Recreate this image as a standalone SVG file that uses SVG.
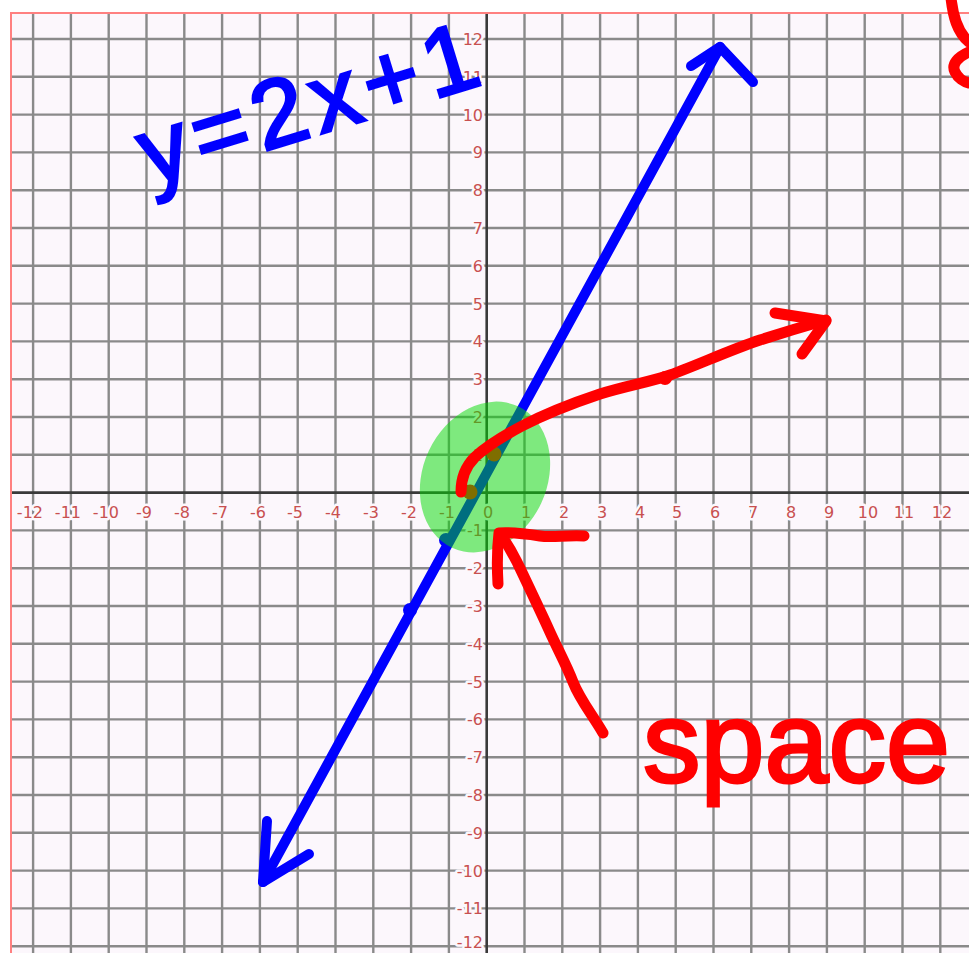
<svg xmlns="http://www.w3.org/2000/svg" width="969" height="953" viewBox="0 0 969 953">
<style>
.grid{fill:none;stroke:#8a8a8a;stroke-width:2.4}
.axis{fill:none;stroke:#3a3a3a;stroke-width:2.6}
.lbl{font-family:"DejaVu Sans",sans-serif;font-size:16px;fill:#c85050;stroke:#fcf7fc;stroke-width:5;paint-order:stroke;stroke-linejoin:round}
.xl{text-anchor:middle}
.yl{text-anchor:end}
.blue{fill:none;stroke:#0000ff;stroke-width:10;stroke-linecap:round;stroke-linejoin:round}
.red{fill:none;stroke:#ff0000;stroke-width:11;stroke-linecap:round;stroke-linejoin:round}
.hand{font-family:"Liberation Sans",sans-serif}
</style>
<rect x="0" y="0" width="969" height="953" fill="#ffffff"/>
<g id="paper">
<rect x="11" y="13" width="958" height="940" fill="#fcf7fc"/>
<path class="grid" d="M33.1 13V953M70.9 13V953M108.7 13V953M146.5 13V953M184.3 13V953M222.1 13V953M259.9 13V953M297.7 13V953M335.5 13V953M373.3 13V953M411.1 13V953M448.9 13V953M524.5 13V953M562.3 13V953M600.1 13V953M637.9 13V953M675.7 13V953M713.5 13V953M751.3 13V953M789.1 13V953M826.9 13V953M864.7 13V953M902.5 13V953M940.3 13V953"/>
<path class="grid" d="M11 39H969M11 76.8H969M11 114.6H969M11 152.4H969M11 190.2H969M11 228H969M11 265.8H969M11 303.6H969M11 341.4H969M11 379.2H969M11 417H969M11 454.8H969M11 530.4H969M11 568.2H969M11 606H969M11 643.8H969M11 681.6H969M11 719.4H969M11 757.2H969M11 795H969M11 832.8H969M11 870.6H969M11 908.4H969M11 946.2H969"/>
<path class="axis" d="M486.7 13V953M11 492.6H969"/>
<path d="M11 953V13H969" fill="none" stroke="#ff8080" stroke-width="2"/>
</g>
<g id="x-labels" class="lbl yl">
<text x="43" y="518">-12</text>
<text x="81" y="518">-11</text>
<text x="119" y="518">-10</text>
<text x="152" y="518">-9</text>
<text x="190" y="518">-8</text>
<text x="228" y="518">-7</text>
<text x="266" y="518">-6</text>
<text x="303" y="518">-5</text>
<text x="341" y="518">-4</text>
<text x="379" y="518">-3</text>
<text x="417" y="518">-2</text>
<text x="455" y="518">-1</text>
</g>
<g class="lbl xl">
<text x="488" y="518">0</text>
<text x="526" y="518">1</text>
<text x="564" y="518">2</text>
<text x="602" y="518">3</text>
<text x="640" y="518">4</text>
<text x="677" y="518">5</text>
<text x="715" y="518">6</text>
<text x="753" y="518">7</text>
<text x="791" y="518">8</text>
<text x="829" y="518">9</text>
<text x="868" y="518">10</text>
<text x="904" y="518">11</text>
<text x="942" y="518">12</text>
</g>
<g id="y-labels" class="lbl yl">
<text x="483" y="45">12</text>
<text x="483" y="83">11</text>
<text x="483" y="121">10</text>
<text x="483" y="158">9</text>
<text x="483" y="196">8</text>
<text x="483" y="234">7</text>
<text x="483" y="272">6</text>
<text x="483" y="310">5</text>
<text x="483" y="347">4</text>
<text x="483" y="385">3</text>
<text x="483" y="423">2</text>
<text x="483" y="461">1</text>
<text x="483" y="536">-1</text>
<text x="483" y="574">-2</text>
<text x="483" y="612">-3</text>
<text x="483" y="650">-4</text>
<text x="483" y="688">-5</text>
<text x="483" y="725">-6</text>
<text x="483" y="763">-7</text>
<text x="483" y="801">-8</text>
<text x="483" y="839">-9</text>
<text x="483" y="877">-10</text>
<text x="483" y="914">-11</text>
<text x="483" y="948">-12</text>
</g>
<g id="connectors">
<g id="blue-line">
<path class="blue" d="M263 882L720 47"/>
<path class="blue" d="M267 821L263 882L309 854"/>
<path class="blue" d="M691 66L720 47L753 82"/>
<circle cx="410" cy="610" r="7" fill="#0000ff"/>
<circle cx="446" cy="540" r="7" fill="#0000ff"/>
</g>
<g id="plotted-dots">
<circle cx="470" cy="492" r="7.5" fill="#ff0000"/>
<circle cx="494" cy="454" r="7.5" fill="#ff0000"/>
</g>
<g id="highlight">
<ellipse cx="485" cy="477" rx="62" ry="78" transform="rotate(25 485 477)" fill="#00dc00" fill-opacity="0.5"/>
</g>
<g id="red-curve">
<path class="red" d="M461 492C461 478 465 467 475 457C488 445 505 435 522 426C545 414 570 404 600 394C625 386 650 382 670 375C700 364 730 350 760 340C785 332 805 326 826 320"/>
<path class="red" d="M775 313L826 321L802 354"/>
<circle cx="665" cy="378" r="7" fill="#ff0000"/>
</g>
<g id="pointer-arrow">
<path class="red" d="M603 733C592 714 580 700 573 682C566 664 558 650 549 630C538 606 527 583 517 562C511 550 506 542 501 535"/>
<path class="red" d="M584 536C565 535 552 538 540 536C527 534 512 532 499 533C497 550 497 567 498 584"/>
</g>
</g>
<g id="label-equation">
<text class="hand" x="150" y="186" transform="rotate(-17 150 186)" font-size="96" letter-spacing="7" fill="#0000ff" stroke="#0000ff" stroke-width="3">y=2x+1</text>
</g>
<g id="label-space">
<text class="hand" x="643" y="782" font-size="115" fill="#ff0000" stroke="#ff0000" stroke-width="3">space</text>
</g>
<g id="edge-marks">
<path class="red" d="M951 -2C953 16 957 32 969 42"/>
<path class="red" d="M969 52C958 57 951 64 955 72C958 78 964 82 969 83"/>
</g>
</svg>
